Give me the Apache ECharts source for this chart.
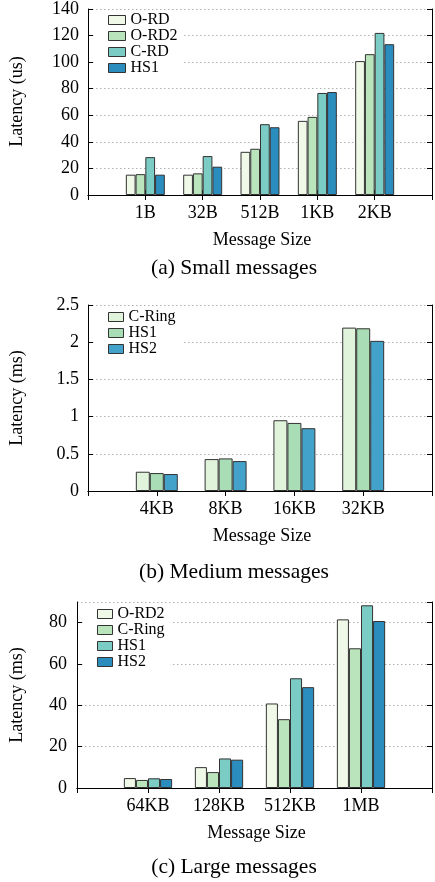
<!DOCTYPE html>
<html><head><meta charset="utf-8">
<script src="https://cdn.jsdelivr.net/npm/echarts@6/dist/echarts.min.js"></script>
<style>html,body{margin:0;padding:0;background:#fff;width:435px;height:882px;overflow:hidden}
.c{position:absolute;left:0;width:435px}</style></head>
<body>
<div id="c1" class="c" style="top:0;height:285px"></div>
<div id="c2" class="c" style="top:280px;height:310px"></div>
<div id="c3" class="c" style="top:580px;height:302px"></div>
<script>
const FONT='"Liberation Serif","Times New Roman",serif';

// (a) Small messages
const smallCategories=['1B','32B','512B','1KB','2KB'];
const smallNames=['O-RD','O-RD2','C-RD','HS1'];
const smallORD=[15.3,15.3,32.5,55.8,100.8];
const smallORD2=[15.7,16.3,34.8,58.8,106];
const smallCRD=[28.5,29.3,53.3,76.8,122];
const smallHS1=[15.3,21.3,51,77.5,113.5];
const smallColors=['#f0f9e8','#bae4bc','#7bccc4','#2b8cbe'];
const smallYTicks=[0,20,40,60,80,100,120,140];

// (b) Medium messages
const mediumCategories=['4KB','8KB','16KB','32KB'];
const mediumNames=['C-Ring','HS1','HS2'];
const mediumCRing=[0.259,0.429,0.951,2.196];
const mediumHS1=[0.241,0.438,0.915,2.187];
const mediumHS2=[0.228,0.402,0.844,2.018];
const mediumColors=['#e0f3db','#a8ddb5','#43a2ca'];
const mediumYTicks=[0,0.5,1,1.5,2,2.5];

// (c) Large messages
const largeCategories=['64KB','128KB','512KB','1MB'];
const largeNames=['O-RD2','C-Ring','HS1','HS2'];
const largeORD2=[4.8,10.1,40.9,81.6];
const largeCRing=[3.9,7.7,33.3,67.6];
const largeHS1=[4.7,14.3,53.1,88.4];
const largeHS2=[4.35,13.7,48.8,80.8];
const largeColors=['#f0f9e8','#bae4bc','#7bccc4','#2b8cbe'];
const largeYTicks=[0,20,40,60,80];
const largeYMax=90;

function makeOption(c){
  const cats=[''].concat(c.categories,['']);
  const pad=a=>[null].concat(a,[null]);
  const g=c.grid;
  const line={color:'#000',width:1};
  const tick={show:true,inside:true,length:5,lineStyle:{color:'#000',width:1}};
  const interval=c.yTicks[1]-c.yTicks[0];
  const yBase={type:'value',min:c.yTicks[0],max:c.yMax,interval:interval,
    axisLine:{show:true,lineStyle:line},axisTick:tick};
  return {
    animation:false,
    textStyle:{fontFamily:FONT},
    grid:{left:g.left,top:g.top,width:g.width,height:g.height,show:false},
    xAxis:[
      {type:'category',data:cats,boundaryGap:false,position:'bottom',
       axisLine:{show:true,lineStyle:line},
       axisTick:Object.assign({interval:0},tick),
       axisLabel:{interval:0,margin:9,fontSize:18,color:'#000',fontFamily:FONT},
       splitLine:{show:false}},
      {type:'category',data:cats,boundaryGap:false,position:'top',
       axisLine:{show:true,lineStyle:line},
       axisTick:Object.assign({interval:0},tick),
       axisLabel:{show:false},splitLine:{show:false}}
    ],
    yAxis:[
      Object.assign({},yBase,{position:'left',
        axisLabel:{margin:c.labelMargin,fontSize:18,color:'#000',fontFamily:FONT,showMaxLabel:c.showMax},
        splitLine:{show:true,lineStyle:{type:[1.5,2.5],color:'#b0b0b0',width:1}}}),
      Object.assign({},yBase,{position:'right',axisLabel:{show:false},splitLine:{show:false}})
    ],
    legend:{orient:'vertical',left:c.legend.left,top:c.legend.top,padding:c.legend.padding,
      itemGap:0,itemWidth:c.legend.iw,itemHeight:9,backgroundColor:'#fff',icon:'rect',
      selectedMode:false,
      textStyle:{fontSize:16,fontFamily:FONT,color:'#000',lineHeight:c.legend.lh},
      itemStyle:{borderColor:'#333',borderWidth:1},
      data:c.names},
    series:c.series.map((d,i)=>({type:'bar',name:c.names[i],data:pad(d),
      xAxisIndex:0,yAxisIndex:0,barGap:'0%',barCategoryGap:c.gap,
      itemStyle:{color:c.colors[i],borderColor:'#333',borderWidth:1}})),
    graphic:[
      {type:'text',x:17,y:g.top+g.height/2,rotation:Math.PI/2,
       style:{text:c.yName,fontSize:18,fontFamily:FONT,fill:'#000',
         align:'center',verticalAlign:'middle',textAlign:'center',textVerticalAlign:'middle'}},
      {type:'text',x:g.left+g.width/2,y:g.top+g.height+45,
       style:{text:'Message Size',fontSize:18,fontFamily:FONT,fill:'#000',
         align:'center',verticalAlign:'middle',textAlign:'center',textVerticalAlign:'middle'}},
      {type:'text',x:234,y:c.captionY,
       style:{text:c.caption,fontSize:21.5,fontFamily:FONT,fill:'#000',
         align:'center',verticalAlign:'middle',textAlign:'center',textVerticalAlign:'middle'}}
    ]
  };
}

const c1=echarts.init(document.getElementById('c1'),null,{renderer:'canvas'});
c1.setOption(makeOption({
  categories:smallCategories,names:smallNames,series:[smallORD,smallORD2,smallCRD,smallHS1],
  colors:smallColors,yTicks:smallYTicks,yMax:smallYTicks[smallYTicks.length-1],showMax:true,
  grid:{left:88,top:8,width:348,height:187},gap:'32%',labelMargin:9,
  legend:{left:95,top:10,padding:[2,6,2,13],iw:17,lh:16},
  yName:'Latency (us)',caption:'(a) Small messages',captionY:268
}));

const c2=echarts.init(document.getElementById('c2'),null,{renderer:'canvas'});
c2.setOption(makeOption({
  categories:mediumCategories,names:mediumNames,series:[mediumCRing,mediumHS1,mediumHS2],
  colors:mediumColors,yTicks:mediumYTicks,yMax:mediumYTicks[mediumYTicks.length-1],showMax:true,
  grid:{left:88,top:25,width:348,height:186},gap:'39%',labelMargin:9,
  legend:{left:95,top:27,padding:[2,8,2,13],iw:15,lh:16},
  yName:'Latency (ms)',caption:'(b) Medium messages',captionY:292
}));

const c3=echarts.init(document.getElementById('c3'),null,{renderer:'canvas'});
c3.setOption(makeOption({
  categories:largeCategories,names:largeNames,series:[largeORD2,largeCRing,largeHS1,largeHS2],
  colors:largeColors,yTicks:largeYTicks,yMax:largeYMax,showMax:false,
  grid:{left:77,top:22,width:359,height:186},gap:'32%',labelMargin:10,
  legend:{left:84,top:24,padding:[2,6,2,13],iw:15,lh:16},
  yName:'Latency (ms)',caption:'(c) Large messages',captionY:287
}));
</script>
</body></html>
